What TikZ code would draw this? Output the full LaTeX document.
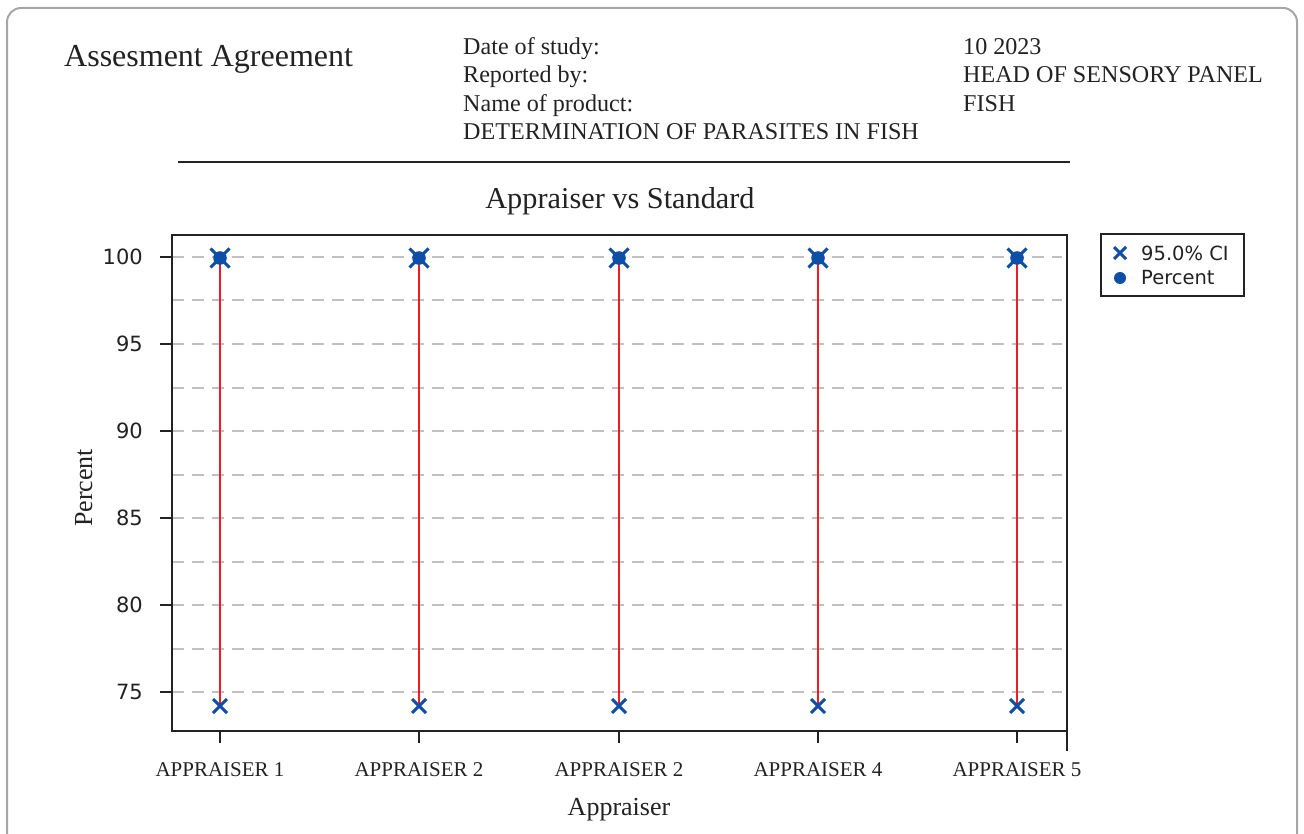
\documentclass[tikz,border=0pt]{standalone}
\usepackage{fontspec}
\setmainfont{Liberation Serif}
\newfontfamily\dvsans{DejaVu Sans}
\definecolor{mtblue}{HTML}{0D4EA6}
\definecolor{mtred}{HTML}{EE1C25}
\definecolor{gridgray}{HTML}{C0C0C0}
\definecolor{framegray}{HTML}{A6A6A6}
\definecolor{txt}{HTML}{222222}
\tikzset{
  framebox/.style={draw=framegray, line width=2pt, rounded corners=14pt},
  gridln/.style={draw=gridgray, line width=2pt, dash pattern=on 12pt off 8pt},
  axisln/.style={draw=txt, line width=2.4pt},
  ciline/.style={draw=mtred, line width=2.8pt},
  cimark/.style={draw=mtblue, line width=3pt},
  hdr/.style={anchor=base west, inner sep=0pt, text=txt, font=\fontsize{24.1}{28}\selectfont},
  ticklab/.style={anchor=east, inner sep=0pt, text=txt, font=\dvsans\fontsize{21}{24}\selectfont},
  xlab/.style={anchor=base, inner sep=0pt, text=txt, font=\fontsize{21}{25}\selectfont},
  leglab/.style={anchor=west, inner sep=0pt, text=txt, font=\dvsans\fontsize{19.5}{22}\selectfont},
  cix/.pic={\draw[cimark] (-#1,-#1) -- (#1,#1) (-#1,#1) -- (#1,-#1);},
}
\begin{document}
\begin{tikzpicture}[x=1pt,y=-1pt]
\useasboundingbox (0,0) rectangle (1304,834);
\begin{scope}
\clip (0,0) rectangle (1304,834);
\draw[framebox] (7,8) rectangle (1297,848);
\end{scope}
% header
\node[anchor=base west, inner sep=0pt, text=txt, font=\fontsize{32}{38}\selectfont] (title) at (64,67) {Assesment Agreement};
\node[hdr] (h1) at (463,55) {Date of study:};
\node[hdr] (h2) at (463,83) {Reported by:};
\node[hdr] (h3) at (463,112) {Name of product:};
\node[hdr] (h4) at (463,140) {DETERMINATION OF PARASITES IN FISH};
\node[hdr] (v1) at (963,55) {10 2023};
\node[hdr] (v2) at (963,83) {HEAD OF SENSORY PANEL};
\node[hdr] (v3) at (963,112) {FISH};
\draw[axisln] (178,162) -- (1070,162);
% chart title
\node[anchor=base, inner sep=0pt, text=txt, font=\fontsize{30.3}{36}\selectfont] (ctitle) at (620,209) {Appraiser vs Standard};
% gridlines
\foreach \v in {100,97.5,95,92.5,90,87.5,85,82.5,80,77.5,75} {
  \pgfmathsetmacro\yy{257+(100-\v)*17.4}
  \draw[gridln] (172,\yy) -- (1062,\yy);
}
% axes
\draw[axisln] (172,235) rectangle (1067,731);
\draw[axisln] (1067,731) -- (1067,751);
\foreach \v in {100,95,90,85,80,75} {
  \pgfmathsetmacro\yy{257+(100-\v)*17.4}
  \draw[axisln] (160,\yy) -- (172,\yy);
  \node[ticklab] at (143,\yy) {\v};
}
% data
\foreach \xx/\lab in {220/APPRAISER 1,419/APPRAISER 2,619/APPRAISER 2,818/APPRAISER 4,1017/APPRAISER 5} {
  \draw[axisln] (\xx,731) -- (\xx,743);
  \node[xlab] at (\xx,776) {\lab};
  \draw[ciline] (\xx,258) -- (\xx,706);
  \pic at (\xx,706) {cix=7};
  \pic at (\xx,258) {cix=9.5};
  \fill[mtblue] (\xx,258) circle (6.8pt);
}
% axis labels
\node[rotate=90, anchor=base, inner sep=0pt, text=txt, font=\fontsize{26}{30}\selectfont] (ylab) at (92,488) {Percent};
\node[anchor=base, inner sep=0pt, text=txt, font=\fontsize{26}{30}\selectfont] (xlabel) at (619,815) {Appraiser};
% legend
\draw[draw=txt, line width=2.4pt, fill=white] (1101,234) rectangle (1244,296);
\pic at (1120,253) {cix=6};
\fill[mtblue] (1120,278) circle (6pt);
\node[leglab] (l1) at (1141,253) {95.0\% CI};
\node[leglab] (l2) at (1141,278) {Percent};
\end{tikzpicture}
\end{document}
